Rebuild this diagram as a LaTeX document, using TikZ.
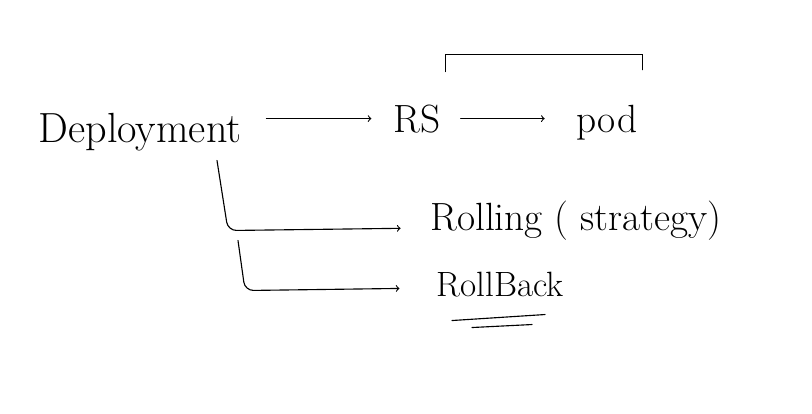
\documentclass[tikz,border=0pt]{standalone}
\begin{document}
\begin{tikzpicture}[
  big/.style={font=\fontsize{30}{34}\selectfont, anchor=base},
  mid/.style={font=\fontsize{28}{32}\selectfont, anchor=base},
  small/.style={font=\fontsize{25}{29}\selectfont, anchor=base},
  pen/.style={thick, line cap=round}]
  \useasboundingbox (0,0) rectangle (20.3,10.325);

  \node[big] (dep) at (3.5,6.775) {Deployment};
  \node[mid] (rs) at (10.425,7.025) {RS};
  \node[mid] (pod) at (15.175,7.025) {pod};
  \node[mid] (roll) at (14.4,4.575) {Rolling ( strategy)};
  \node[small] (back) at (12.5,2.925) {RollBack};

  \draw[pen,->,shorten <=0.5cm,shorten >=0.43cm] (dep.east |- rs.west) -- (rs.west);
  \draw[pen,->,shorten <=0.38cm,shorten >=0.68cm] (rs.east) -- (rs.east -| pod.west);

  % bracket over RS and pod
  \coordinate (ptop) at ([yshift=1.125cm]pod.north east);
  \draw[pen] ([yshift=0.7cm]rs.north east) |- (ptop) -- ([yshift=0.75cm]pod.north east);

  \coordinate (b1) at ([xshift=1.925cm,yshift=-0.125cm]dep.south);
  \coordinate (b2) at ([xshift=2.45cm,yshift=-2.125cm]dep.south);
  \draw[pen,->,rounded corners=6pt,shorten >=0.62cm] (b1) -- ++(0.275,-1.75) -- ([yshift=0.05cm]roll.base west);
  \draw[pen,->,rounded corners=6pt,shorten >=0.8cm] (b2) -- ++(0.175,-1.25) -- ([yshift=0.2cm]back.base west);

  \draw[pen] ([shift={(-1.2,-0.475)}]back.south) -- ([shift={(1.125,-0.325)}]back.south);
  \draw[pen] ([shift={(-0.7,-0.65)}]back.south) -- ([shift={(0.8,-0.575)}]back.south);
\end{tikzpicture}
\end{document}
